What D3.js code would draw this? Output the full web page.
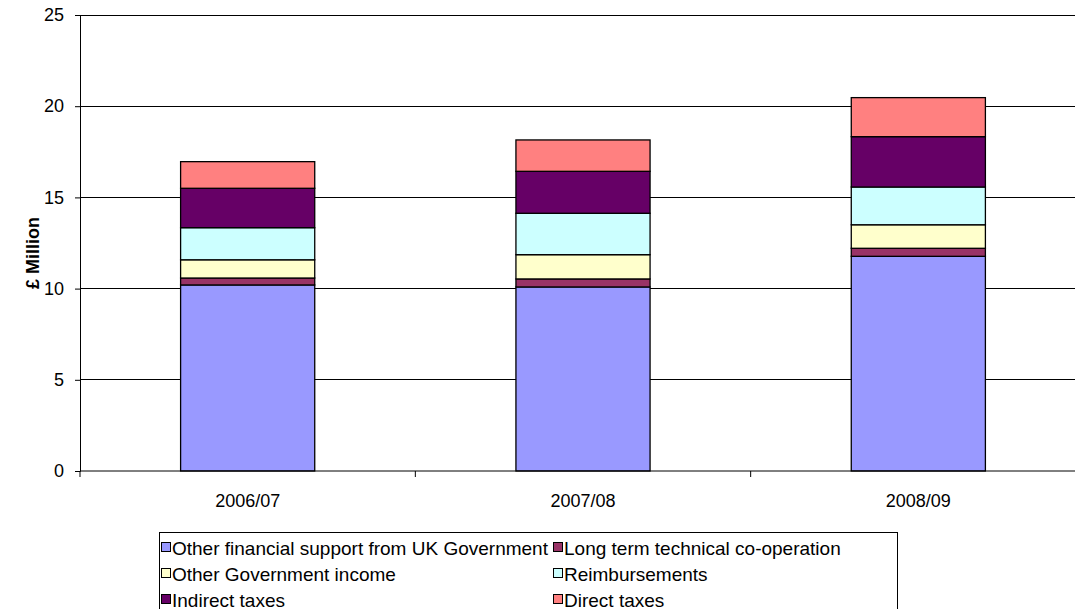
<!DOCTYPE html>
<html><head><meta charset="utf-8">
<script src="https://cdn.jsdelivr.net/npm/d3@7"></script>
<style>body{margin:0;background:#fff}svg{display:block;font-family:"Liberation Sans",Arial,sans-serif}</style>
</head><body><svg id="c" width="1075" height="609"></svg>
<script>
const categories = ["2006/07", "2007/08", "2008/09"];
const seriesNames = ["Other financial support from UK Government", "Long term technical co-operation", "Other Government income", "Reimbursements", "Indirect taxes", "Direct taxes"];
const otherFinancial = [10.20, 10.09, 11.77];
const longTerm = [0.38, 0.44, 0.44];
const otherGov = [1.00, 1.33, 1.29];
const reimbursements = [1.76, 2.27, 2.07];
const indirectTaxes = [2.16, 2.30, 2.76];
const directTaxes = [1.46, 1.72, 2.14];
const yTicks = [0, 5, 10, 15, 20, 25];
const colors = ["#9999FF", "#993366", "#FFFFCC", "#CCFFFF", "#660066", "#FF8080"];

const seriesValues = [otherFinancial, longTerm, otherGov, reimbursements, indirectTaxes, directTaxes];
const table = categories.map((c, i) => {
  const r = {cat: c};
  seriesNames.forEach((s, j) => r[s] = seriesValues[j][i]);
  return r;
});
const stacked = d3.stack().keys(seriesNames)(table);

const svg = d3.select("#c");
const L = 80, R = 1086, T = 15, B = 471;
const x = d3.scaleBand().domain(categories).range([L, R]).paddingInner(0.6).paddingOuter(0.3);
const xb = d3.scaleBand().domain(categories).range([L, R]);
const y = d3.scaleLinear().domain([0, 25]).range([B, T]);

// gridlines
svg.append("g").selectAll("line").data(yTicks.filter(t => t > 0)).join("line")
  .attr("x1", L).attr("x2", R).attr("y1", d => y(d)).attr("y2", d => y(d))
  .attr("stroke", "#000").attr("stroke-width", 1).attr("shape-rendering", "crispEdges");

// bars
svg.append("g").selectAll("g").data(stacked).join("g")
  .attr("fill", (d, i) => colors[i])
  .selectAll("rect").data(d => d).join("rect")
  .attr("x", d => x(d.data.cat)).attr("width", x.bandwidth())
  .attr("y", d => y(d[1])).attr("height", d => y(d[0]) - y(d[1]))
  .attr("stroke", "#000").attr("stroke-width", 1.3);

// y axis
const ya = svg.append("g").attr("transform", `translate(${L},0)`)
  .call(d3.axisLeft(y).tickValues(yTicks).tickSize(5).tickPadding(11));
ya.select(".domain").attr("stroke", "#000");
ya.selectAll("text").attr("font-size", 18).attr("fill", "#000").attr("font-family", "Liberation Sans, Arial, sans-serif");

// x axis
const xa = svg.append("g").attr("transform", `translate(0,${B})`);
xa.append("line").attr("x1", L).attr("x2", R).attr("stroke", "#000");
xa.selectAll("line.t").data(categories.concat(["end"])).join("line").attr("class", "t")
  .attr("x1", (d, i) => L + i * xb.bandwidth()).attr("x2", (d, i) => L + i * xb.bandwidth())
  .attr("y1", 0).attr("y2", 6).attr("stroke", "#000");
xa.selectAll("text").data(categories).join("text")
  .attr("x", d => xb(d) + xb.bandwidth() / 2).attr("y", 36)
  .attr("text-anchor", "middle").attr("font-size", 18).text(d => d);

// y title
svg.append("text").attr("transform", `translate(39,${(T + B) / 2 + 10}) rotate(-90)`)
  .attr("text-anchor", "middle").attr("font-size", 18).attr("font-weight", "bold").text("£ Million");

// legend
const lg = svg.append("g");
lg.append("rect").attr("x", 159.5).attr("y", 532.5).attr("width", 738).attr("height", 90)
  .attr("fill", "#fff").attr("stroke", "#000");
const colX = [161, 553], rowY = [548, 574, 600];
seriesNames.forEach((s, i) => {
  const gx = colX[i % 2], gy = rowY[Math.floor(i / 2)];
  lg.append("rect").attr("x", gx + 0.5).attr("y", gy - 5.5).attr("width", 9).attr("height", 9)
    .attr("fill", colors[i]).attr("stroke", "#000");
  lg.append("text").attr("x", gx + 11).attr("y", gy + 6.5).attr("font-size", 19).text(s);
});
</script></body></html>
